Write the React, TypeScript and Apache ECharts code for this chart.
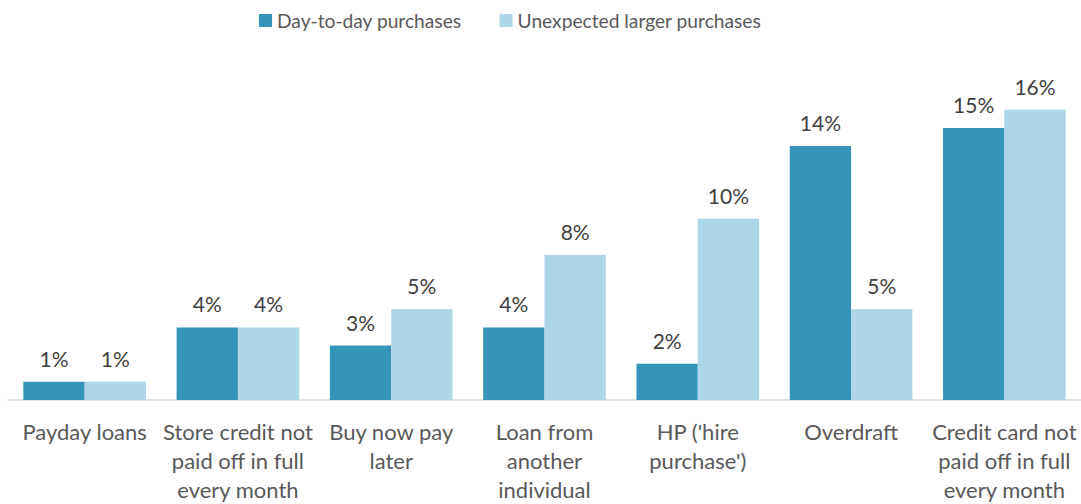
import React, { useEffect, useRef } from "react";
import * as echarts from "echarts";

const categories = [
  "Payday loans",
  "Store credit not\npaid off in full\nevery month",
  "Buy now pay\nlater",
  "Loan from\nanother\nindividual",
  "HP ('hire\npurchase')",
  "Overdraft",
  "Credit card not\npaid off in full\nevery month",
];
const dayToDay = [1, 4, 3, 4, 2, 14, 15];
const unexpected = [1, 4, 5, 8, 10, 5, 16];
const seriesNames = ["Day-to-day purchases", "Unexpected larger purchases"];

const FONT = "Lato";

export default function App() {
  const ref = useRef<HTMLDivElement>(null);
  useEffect(() => {
    document.body.style.margin = "0";
    document.body.style.overflow = "hidden";
    const chart = echarts.init(ref.current!, null, { renderer: "svg" });
    const label = {
      show: true,
      position: "top" as const,
      distance: 13,
      formatter: "{c}%",
      color: "#404040",
      fontSize: 21,
      fontFamily: FONT,
    };
    chart.setOption({
      animation: false,
      textStyle: { fontFamily: FONT },
      legend: {
        left: 254,
        top: 6,
        itemWidth: 13,
        itemHeight: 13,
        itemGap: 38,
        icon: "rect",
        textStyle: { fontSize: 19.2, color: "#595959", fontFamily: FONT },
        data: seriesNames,
      },
      grid: { left: 8, right: -2, top: 37.3, height: 367.2, containLabel: false },
      xAxis: {
        type: "category",
        data: categories,
        axisLine: { lineStyle: { color: "#D9D9D9", width: 1.5 } },
        axisTick: { show: false },
        axisLabel: {
          interval: 0,
          color: "#595959",
          fontSize: 22,
          fontFamily: FONT,
          lineHeight: 29,
          margin: 17,
        },
      },
      yAxis: {
        type: "value",
        min: 0,
        max: 20,
        show: false,
        splitLine: { show: false },
      },
      series: [
        {
          name: seriesNames[0],
          type: "bar",
          data: dayToDay,
          barGap: "0%",
          barCategoryGap: "20%",
          itemStyle: { color: "#3494BA" },
          label,
        },
        {
          name: seriesNames[1],
          type: "bar",
          data: unexpected,
          barGap: "0%",
          barCategoryGap: "20%",
          itemStyle: { color: "#ADD6E7" },
          label,
        },
      ],
    });
    return () => chart.dispose();
  }, []);
  return <div ref={ref} style={{ position: "absolute", left: 0, top: 0, width: 1081, height: 504 }} />;
}
